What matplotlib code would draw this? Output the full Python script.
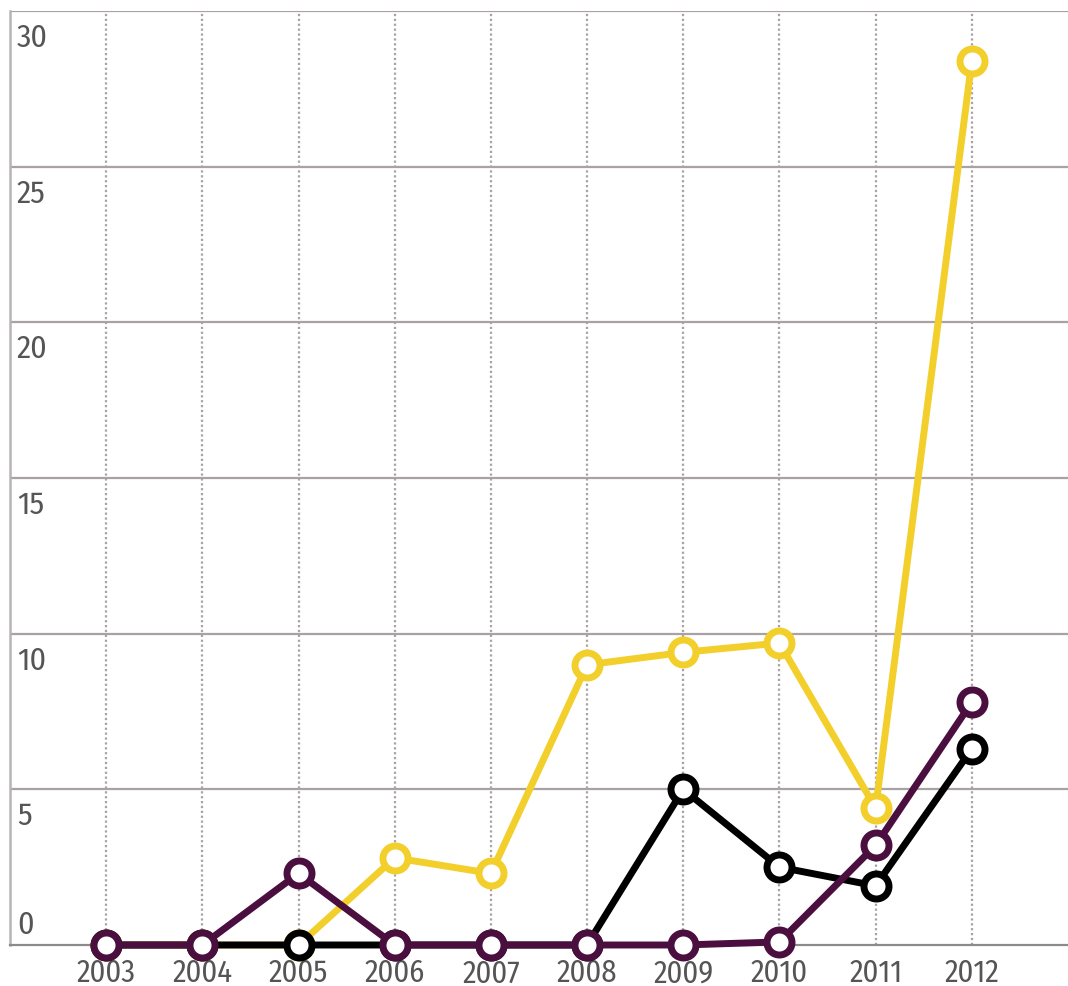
import matplotlib
matplotlib.use("Agg")
import matplotlib.pyplot as plt
from matplotlib import font_manager

years = [2003, 2004, 2005, 2006, 2007, 2008, 2009, 2010, 2011, 2012]
yellow_vals = [0, 0, 0, 2.8, 2.3, 9.0, 9.4, 9.7, 4.4, 28.4]
black_vals = [0, 0, 0, 0, 0, 0, 5.0, 2.5, 1.9, 6.3]
purple_vals = [0, 0, 2.3, 0, 0, 0, 0, 0.1, 3.2, 7.8]
y_ticks = [0, 5, 10, 15, 20, 25, 30]

YELLOW = "#f3cf2c"
BLACK = "#000000"
PURPLE = "#4a0f3e"
GRID = "#aaa2a2"
TEXT = "#555555"

installed = {f.name for f in font_manager.fontManager.ttflist}
preferred = ["Fira Sans Condensed", "PT Sans Narrow", "Roboto Condensed",
             "Archivo Narrow", "Asap Condensed", "Liberation Sans Narrow"]
family = [f for f in preferred if f in installed][:1] + ["DejaVu Sans"]

W, H = 1068, 987
fig = plt.figure(figsize=(W / 100, H / 100), dpi=100)
ax = fig.add_axes([10 / W, 41 / H, 1 - 10 / W, (946 - 12) / H])
ax.set_xlim(2002, 2013)
ax.set_ylim(0, 30)

# grid: solid horizontal, dotted vertical
for v in y_ticks[1:]:
    ax.axhline(v, color=GRID, lw=1.6, zorder=1)
for yr in years:
    ax.axvline(yr, color=GRID, lw=1.6, ls=(0, (1, 1.2)), zorder=1)

for s in ["top", "right"]:
    ax.spines[s].set_visible(False)
ax.spines["left"].set_color("#b8b4b4")
ax.spines["left"].set_linewidth(1.8)
ax.spines["bottom"].set_color("#8f8a8a")
ax.spines["bottom"].set_linewidth(1.6)
ax.set_xticks([])
ax.set_yticks([])

style = dict(lw=5.0, marker="o", ms=18, mew=5.0, mfc="white", clip_on=False)
ax.plot(years, yellow_vals, color=YELLOW, mec=YELLOW, zorder=3, **style)
ax.plot(years, black_vals, color=BLACK, mec=BLACK, zorder=4, **style)
ax.plot(years, purple_vals, color=PURPLE, mec=PURPLE, zorder=5, **style)

# y labels sit just below each gridline; zero sits above the baseline
for v in y_ticks:
    if v == 0:
        ax.annotate(str(v), (2002, v), xytext=(5, 4), textcoords="offset points",
                    ha="left", va="bottom", fontsize=23, color=TEXT, family=family)
    else:
        ax.annotate(str(v), (2002, v), xytext=(5, -8), textcoords="offset points",
                    ha="left", va="top", fontsize=23, color=TEXT, family=family)

for yr in years:
    ax.annotate(str(yr), (yr, 0), xytext=(0, -9), textcoords="offset points",
                ha="center", va="top", fontsize=22, color=TEXT, family=family,
                annotation_clip=False)

fig.savefig("out.png", dpi=100, facecolor="white")
